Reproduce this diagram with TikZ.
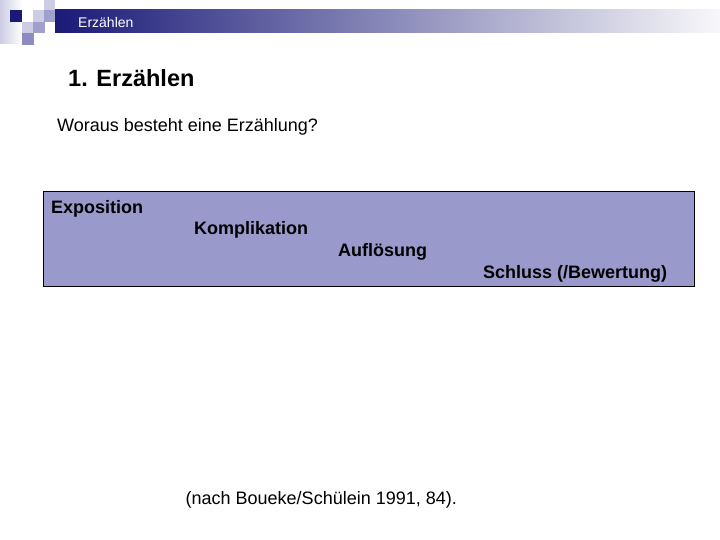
\documentclass[tikz,border=0pt]{standalone}
\usepackage{fontspec}
\setmainfont{Liberation Sans}
\usetikzlibrary{positioning}

\definecolor{navy}{RGB}{26,26,120}
\definecolor{barmid}{RGB}{165,165,195}
\definecolor{barend}{RGB}{248,248,250}
\definecolor{tilelight}{RGB}{204,204,228}
\definecolor{tilemid}{RGB}{160,160,204}
\definecolor{tiledark}{RGB}{140,140,192}
\definecolor{phasefill}{RGB}{153,153,204}

\begin{document}
\begin{tikzpicture}[
    x=1pt, y=-1pt,
    tile/.style={anchor=north west, inner sep=0pt, minimum size=11.5pt},
    header/.style={anchor=base west, inner sep=0pt, text=white, font=\fontsize{14}{16}\selectfont},
    slidetitle/.style={anchor=base west, inner sep=0pt, font=\bfseries\fontsize{23.5}{27}\selectfont},
    plaintext/.style={anchor=base west, inner sep=0pt, font=\fontsize{18}{21}\selectfont},
    phase/.style={anchor=base west, inner sep=0pt, font=\bfseries\fontsize{18}{21}\selectfont},
    phasebox/.style={anchor=north west, draw=black, line width=1pt, fill=phasefill, inner sep=0pt}
]
\useasboundingbox (0,0) rectangle (720,540);

% header bar
\fill[left color=tilelight, right color=white] (0,0) rectangle (22,44);
\fill[left color=navy, middle color=barmid, right color=barend] (55,10) rectangle (720,33);
\node[tile, fill=navy] (tile1) at (10,10) {};
\node[tile, fill=tilelight] (tile2) at (22,21.5) {};
\node[tile, fill=tilelight] (tile3) at (33,10) {};
\node[tile, fill=tilemid] (tile4) at (33,21.5) {};
\node[tile, fill=tiledark] (tile5) at (22,33) {};
\node[tile, fill=tilelight] (tile6) at (43.5,0) {};
\node[tile, fill=tilemid] (tile7) at (43.5,10) {};
\node[header] (head) at (78,27.5) {Erzählen};

% titel
\node[slidetitle] (title) at (68,87) {1. Erzählen};
\node[plaintext] (question) at (57,132) {Woraus besteht eine Erzählung?};

% phasen
\node[phasebox, minimum width=651pt, minimum height=94pt] (phases) at (42.5,191.5) {};
\node[phase] (expo) at (51,213.5) {Exposition};
\node[phase] (kompl) at (194,235) {Komplikation};
\node[phase] (aufl) at (338,256.5) {Auflösung};
\node[phase] (schluss) at (483,278) {Schluss (/Bewertung)};

% quelle
\node[plaintext] (source) at (185.5,504) {(nach Boueke/Schülein 1991, 84).};
\end{tikzpicture}
\end{document}
